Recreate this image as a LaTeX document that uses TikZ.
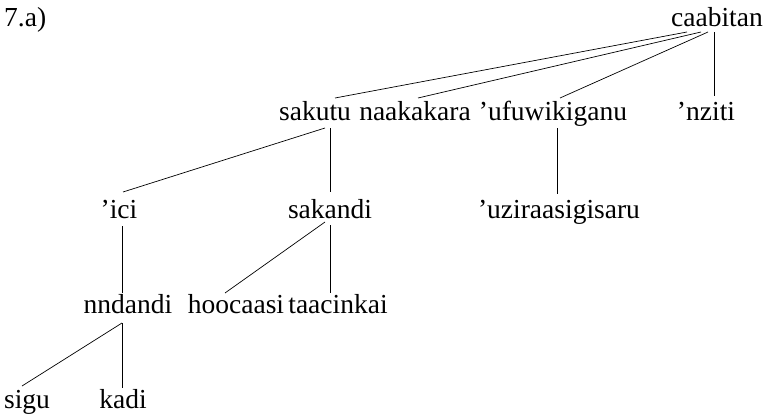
\documentclass[tikz,border=0pt]{standalone}
\usepackage{fontspec}
\setmainfont{Liberation Serif}
\begin{document}
\begin{tikzpicture}[x=1pt,y=-1pt,
  word/.style={inner sep=0pt,anchor=base,font=\fontsize{27.5}{27.5}\selectfont},
  branch/.style={line width=0.7pt}]
\useasboundingbox (0,0) rectangle (766,415);
\node[word,anchor=base west] (lab) at (4,27) {7.a)};
\node[word] (ca) at (717,27) {caabitan};
\node[word] (sak) at (315,120) {sakutu};
\node[word] (naa) at (415,120) {naakakara};
\node[word] (ufu) at (553,120) {'ufuwikiganu};
\node[word] (nzi) at (706,120) {'nziti};
\node[word] (ici) at (119,218) {'ici};
\node[word] (sakd) at (330,218) {sakandi};
\node[word] (uzi) at (559,218) {'uziraasigisaru};
\node[word] (nnd) at (128,313) {nndandi};
\node[word] (hoo) at (236,313) {hoocaasi};
\node[word] (taa) at (338,313) {taacinkai};
\node[word] (sig) at (27,408) {sigu};
\node[word] (kad) at (123,408) {kadi};
\draw[branch] ([shift={(-30,5)}]ca.base) -- ([shift={(20,-22)}]sak.base);
\draw[branch] ([shift={(-16,5)}]ca.base) -- ([shift={(3,-22)}]naa.base);
\draw[branch] ([shift={(-9,5)}]ca.base) -- ([shift={(7,-22)}]ufu.base);
\draw[branch] ([shift={(-3,5)}]ca.base) -- ([shift={(8,-24)}]nzi.base);
\draw[branch] ([shift={(10,8)}]sak.base) -- ([shift={(4,-26)}]ici.base);
\draw[branch] ([shift={(15,8)}]sak.base) -- ([shift={(0,-26)}]sakd.base);
\draw[branch] ([shift={(4,8)}]ufu.base) -- ([shift={(-2,-24)}]uzi.base);
\draw[branch] ([shift={(-5,4)}]sakd.base) -- ([shift={(-11,-20)}]hoo.base);
\draw[branch] ([shift={(0,7)}]sakd.base) -- ([shift={(-8,-20)}]taa.base);
\draw[branch] ([shift={(3,8)}]ici.base) -- ([shift={(-6,-20)}]nnd.base);
\draw[branch] ([shift={(-6,10)}]nnd.base) -- ([shift={(-5,-22)}]sig.base);
\draw[branch] ([shift={(-6,10)}]nnd.base) -- ([shift={(-1,-20)}]kad.base);
\end{tikzpicture}
\end{document}
